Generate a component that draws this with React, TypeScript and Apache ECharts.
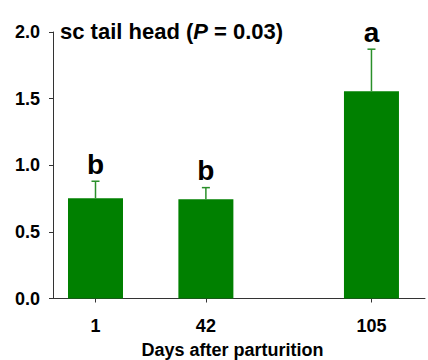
import React, { useEffect, useRef } from "react";
import * as echarts from "echarts";

const categories = ["1", "42", "105"];
const slotPositions = [0, 2, 5];
const means = [0.752, 0.745, 1.556];
const upperErrors = [0.88, 0.832, 1.871];
const letters = ["b", "b", "a"];

const FONT = "'Liberation Sans', Arial, Helvetica, sans-serif";
const BAR_COLOR = "#008000";
const ERR_COLOR = "#2a8f2a";
const AXIS_COLOR = "#333333";

export default function App() {
  const ref = useRef<HTMLDivElement>(null);
  useEffect(() => {
    if (!ref.current) return;
    const chart = echarts.init(ref.current, undefined, { renderer: "svg" });
    const barData = slotPositions.map((p, i) => [p, means[i]]);
    const errData = slotPositions.map((p, i) => [p, means[i], upperErrors[i]]);
    chart.setOption({
      animation: false,
      backgroundColor: "#ffffff",
      title: {
        left: 55,
        top: 15,
        text: "{b|sc tail head (}{i|P}{b| = 0.03)}",
        textStyle: {
          rich: {
            b: { fontFamily: FONT, fontSize: 22, fontWeight: "bold", color: "#000" },
            i: { fontFamily: FONT, fontSize: 22, fontWeight: "bold", fontStyle: "italic", color: "#000" },
          },
        },
      },
      grid: { left: 53, right: 3, top: 32, bottom: 61.5, containLabel: false, outerBoundsMode: "none" },
      xAxis: {
        type: "value",
        min: -0.77,
        max: 5.97,
        name: "Days after parturition",
        nameLocation: "middle",
        nameGap: 42.5,
        nameTextStyle: {
          fontFamily: FONT,
          fontSize: 18,
          fontWeight: "bold",
          color: "#000",
          padding: [0, 13, 0, 0],
        },
        axisLine: { show: true, onZero: false, lineStyle: { color: AXIS_COLOR, width: 1 } },
        axisTick: {
          show: true,
          length: 4,
          customValues: slotPositions,
          lineStyle: { color: AXIS_COLOR },
        },
        axisLabel: {
          customValues: slotPositions,
          margin: 18,
          fontFamily: FONT,
          fontSize: 18,
          fontWeight: "bold",
          color: "#000",
          formatter: (v: number) => {
            const i = slotPositions.indexOf(Math.round(v));
            return i >= 0 ? categories[i] : "";
          },
        },
        splitLine: { show: false },
      },
      yAxis: {
        type: "value",
        min: 0,
        max: 2,
        interval: 0.5,
        axisLine: { show: true, onZero: false, lineStyle: { color: AXIS_COLOR, width: 1 } },
        axisTick: { show: true, length: 4, lineStyle: { color: AXIS_COLOR } },
        axisLabel: {
          margin: 13,
          fontFamily: FONT,
          fontSize: 18,
          fontWeight: "bold",
          color: "#000",
          formatter: (v: number) => v.toFixed(1),
        },
        splitLine: { show: false },
      },
      series: [
        {
          type: "bar",
          data: barData,
          barWidth: 55,
          itemStyle: { color: BAR_COLOR },
          z: 2,
        },
        {
          type: "custom",
          data: errData,
          z: 3,
          encode: { x: 0, y: [1, 2] },
          renderItem: (params: any, api: any) => {
            const x = api.value(0);
            const m = api.value(1);
            const u = api.value(2);
            const p0 = api.coord([x, m]);
            const p1 = api.coord([x, u]);
            const style = { stroke: ERR_COLOR, lineWidth: 1.5 };
            return {
              type: "group",
              children: [
                { type: "line", shape: { x1: p0[0], y1: p0[1], x2: p1[0], y2: p1[1] }, style },
                { type: "line", shape: { x1: p1[0] - 4, y1: p1[1], x2: p1[0] + 4, y2: p1[1] }, style },
                {
                  type: "text",
                  x: p1[0],
                  y: p1[1] - 17,
                  style: {
                    text: letters[params.dataIndex],
                    fontFamily: FONT,
                    fontSize: 28,
                    fontWeight: "bold",
                    fill: "#000",
                    align: "center",
                    verticalAlign: "middle",
                  },
                },
              ],
            };
          },
        },
      ],
    } as any);
    return () => chart.dispose();
  }, []);
  return <div ref={ref} style={{ position: "fixed", left: 0, top: 0, width: 428, height: 360 }} />;
}
